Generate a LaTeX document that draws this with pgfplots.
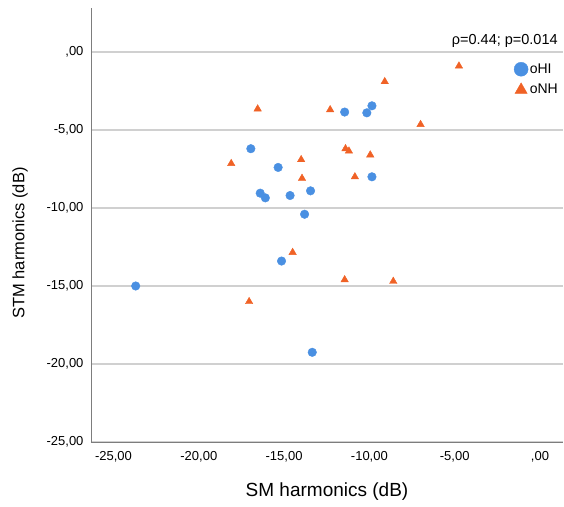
\documentclass[border=0pt]{standalone}
\usepackage{fontspec}
\setmainfont{Liberation Sans}
\usepackage{pgfplots}
\pgfplotsset{compat=1.18}

\definecolor{cHI}{RGB}{74,144,226}
\definecolor{cNH}{RGB}{240,98,38}
\definecolor{gridc}{RGB}{208,208,208}
\definecolor{axc}{RGB}{125,125,125}

\begin{document}
\begin{tikzpicture}
% fix the page to the reference proportions (1px = 1pt)
\path[use as bounding box] (-91pt,-64pt) rectangle (473pt,442pt);
\begin{axis}[
    at={(0pt,0pt)}, anchor=south west,
    scale only axis, width=472pt, height=434pt,
    xmin=-26.32, xmax=1.35,
    ymin=-25, ymax=2.82,
    axis x line*=bottom, axis y line*=left,
    axis line style={-, draw=axc, line width=0.9pt},
    every outer x axis line/.append style={-},
    every outer y axis line/.append style={-},
    xtick={-25,-20,-15,-10,-5,0},
    xticklabels={{-25,00},{-20,00},{-15,00},{-10,00},{-5,00},{,00}},
    ytick={-25,-20,-15,-10,-5,0},
    yticklabels={{-25,00},{-20,00},{-15,00},{-10,00},{-5,00},{,00}},
    major tick length=0pt,
    ymajorgrids=true,
    grid style={draw=gridc, line width=1.1pt},
    tick label style={font=\fontsize{13}{15}\selectfont},
    x tick label style={yshift=-6pt},
    y tick label style={xshift=-4pt},
    xlabel={SM harmonics (dB)},
    ylabel={STM harmonics (dB)},
    x label style={font=\fontsize{19}{22}\selectfont,
        at={(axis description cs:0.5,-0.1152)}, anchor=center},
    y label style={font=\fontsize{16.5}{19}\selectfont,
        at={(axis description cs:-0.1504,0.4585)}, anchor=center},
    legend style={at={(axis cs:-1.54,-0.64)}, anchor=north west,
        draw=none, fill=none, inner sep=0pt, row sep=6.5pt,
        font=\fontsize{14}{16}\selectfont,
        nodes={inner sep=1.5pt}},
    legend cell align=left,
    legend image code/.code={\path (0pt,0pt) (14pt,0pt);
        \draw[#1] plot coordinates {(7pt,0pt)};},
    clip=false,
]
\addlegendimage{only marks, mark=*, mark size=7pt, color=cHI}
\addlegendentry{oHI}
\addlegendimage{only marks, mark=triangle*, mark size=7pt, color=cNH}
\addlegendentry{oNH}

% oHI
\addplot[only marks, mark=*, mark size=4.3pt, color=cHI, forget plot]
coordinates {
    (-23.70,-15.00)
    (-15.15,-13.40)
    (-13.35,-19.25)
    (-16.95,-6.20)
    (-15.35,-7.40)
    (-16.40,-9.05)
    (-16.10,-9.35)
    (-14.65,-9.20)
    (-13.45,-8.90)
    (-13.80,-10.40)
    (-11.45,-3.85)
    (-9.85,-3.45)
    (-10.15,-3.90)
    (-9.85,-8.00)
};

% oNH
\addplot[only marks, mark=triangle*, mark size=4.3pt, color=cNH, forget plot]
coordinates {
    (-16.55,-3.65)
    (-12.30,-3.70)
    (-9.10,-1.90)
    (-7.00,-4.65)
    (-18.10,-7.15)
    (-14.00,-6.90)
    (-13.95,-8.10)
    (-11.40,-6.20)
    (-11.20,-6.35)
    (-9.95,-6.60)
    (-10.85,-8.00)
    (-14.50,-12.85)
    (-11.45,-14.60)
    (-8.60,-14.70)
    (-17.05,-16.00)
    (-4.75,-0.90)
};

\node[anchor=base east, inner sep=0pt, font=\fontsize{14.5}{16}\selectfont]
    at (axis cs:1.05,0.45) {ρ=0.44; p=0.014};
\end{axis}
\end{tikzpicture}
\end{document}
